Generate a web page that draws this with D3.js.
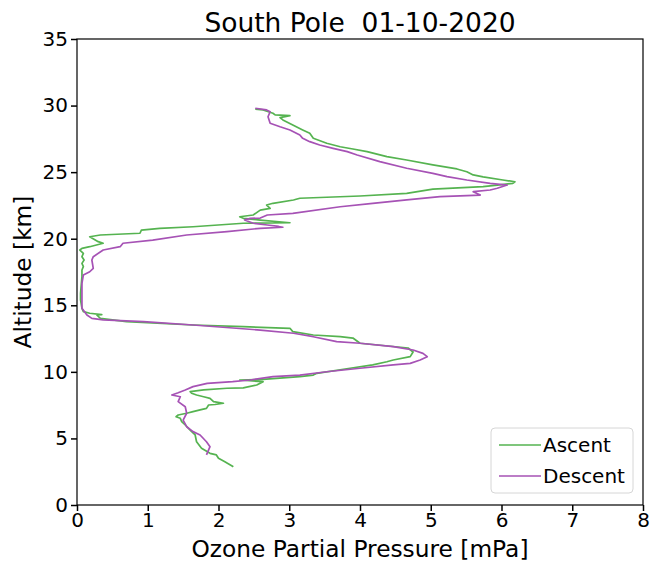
<!DOCTYPE html>
<head>
  <meta charset="utf-8">
  <title>South Pole ozone</title>
  <script src="https://d3js.org/d3.v7.min.js"></script>
  <style>
    body { margin:0; background:#fff; }
    svg { font-family: "DejaVu Sans", sans-serif; }
  </style>
</head>
<body>
  <svg width="656" height="562"></svg>
  <script>
    // [ozone partial pressure mPa, altitude km]
    var ascent = [
      [2.21,2.88],[2.09,3.25],[2.00,3.51],[1.97,3.76],[1.88,3.88],[1.76,4.26],[1.69,4.75],
      [1.67,5.26],[1.60,5.63],[1.53,6.01],[1.48,6.26],[1.46,6.51],[1.40,6.63],[1.43,6.76],
      [1.55,6.89],[1.64,7.01],[1.74,7.14],[1.83,7.26],[1.86,7.51],[1.95,7.55],[2.07,7.64],
      [1.93,7.76],[1.88,8.01],[1.79,8.13],[1.69,8.26],[1.62,8.39],[1.60,8.51],[1.79,8.64],
      [2.12,8.77],[2.35,8.80],[2.54,9.01],[2.63,9.26],[2.30,9.39],[2.63,9.44],[3.15,9.64],
      [3.34,9.76],[3.39,9.89],[3.86,10.27],[4.18,10.52],[4.38,10.76],[4.47,10.89],[4.71,11.14],
      [4.75,11.49],[4.68,11.79],[4.00,12.15],[3.90,12.54],[3.72,12.64],[3.34,12.77],[3.05,13.02],
      [3.01,13.27],[2.35,13.39],[1.64,13.52],[0.70,13.77],[0.33,14.02],[0.28,14.27],[0.35,14.30],
      [0.18,14.40],[0.09,14.52],[0.07,14.77],[0.05,15.40],[0.05,15.90],[0.07,17.15],[0.07,17.65],
      [0.09,17.90],[0.07,18.15],[0.10,18.40],[0.07,18.65],[0.09,18.90],[0.04,19.15],[0.07,19.28],
      [0.18,19.40],[0.37,19.66],[0.30,19.78],[0.18,20.15],[0.33,20.28],[0.89,20.41],[0.91,20.65],
      [1.17,20.78],[1.64,20.90],[2.35,21.16],[3.01,21.20],[2.59,21.40],[2.35,21.53],[2.30,21.65],
      [2.49,21.78],[2.59,22.15],[2.73,22.28],[2.68,22.53],[2.77,22.66],[3.06,22.91],[3.15,23.04],
      [4.00,23.21],[4.66,23.41],[5.03,23.73],[5.74,23.91],[5.94,24.03],[6.16,24.16],[6.19,24.28],
      [6.02,24.41],[5.74,24.64],[5.60,24.79],[5.51,25.03],[5.37,25.24],[5.03,25.54],[4.66,25.91],
      [4.38,26.16],[4.10,26.54],[3.90,26.74],[3.72,26.91],[3.53,27.17],[3.34,27.54],[3.29,27.92],
      [3.19,28.17],[3.05,28.54],[2.91,28.92],[2.87,29.10],[3.01,29.25],[2.80,29.30],[2.77,29.42],
      [2.63,29.67],[2.52,29.74]
    ];
    var descent = [
      [1.83,3.76],[1.88,4.38],[1.83,4.75],[1.74,5.26],[1.64,5.51],[1.55,5.88],[1.50,6.38],
      [1.55,6.89],[1.53,7.38],[1.43,7.76],[1.46,8.13],[1.34,8.26],[1.43,8.43],[1.53,8.64],
      [1.64,8.89],[1.84,9.14],[2.20,9.26],[2.45,9.39],[2.77,9.64],[3.15,9.76],[3.53,10.01],
      [4.00,10.27],[4.47,10.52],[4.71,10.64],[4.85,10.89],[4.95,11.14],[4.89,11.39],[4.75,11.64],
      [4.47,11.89],[4.00,12.15],[3.67,12.27],[3.34,12.64],[3.06,12.90],[2.59,13.14],[1.64,13.52],
      [0.94,13.77],[0.37,13.90],[0.21,14.02],[0.14,14.27],[0.07,14.77],[0.07,15.40],[0.07,16.65],
      [0.09,17.28],[0.18,17.52],[0.23,17.78],[0.21,18.40],[0.23,18.65],[0.37,19.15],[0.61,19.40],
      [0.65,19.66],[1.07,19.90],[1.55,20.28],[2.12,20.53],[2.59,20.78],[2.91,20.86],[2.85,20.92],
      [2.69,21.03],[2.49,21.16],[2.37,21.41],[2.45,21.53],[2.59,21.55],[2.69,21.78],[3.05,21.91],
      [3.72,22.40],[4.18,22.66],[4.66,22.91],[5.13,23.16],[5.70,23.28],[5.60,23.53],[5.84,23.66],
      [5.94,23.79],[6.08,24.03],[5.84,24.16],[5.51,24.41],[5.23,24.66],[5.03,24.91],[4.66,25.29],
      [4.28,25.79],[3.96,26.29],[3.82,26.54],[3.62,26.79],[3.43,27.04],[3.29,27.29],[3.19,27.54],
      [3.15,27.79],[3.01,28.17],[2.87,28.41],[2.73,28.67],[2.70,29.16],[2.73,29.54],[2.68,29.67],
      [2.52,29.80]
    ];
    var xTicks = [0,1,2,3,4,5,6,7,8];
    var yTicks = [0,5,10,15,20,25,30,35];
    var seriesNames = ['Ascent','Descent'];
    var colors = ['#55b350','#a652b5'];

    var margin = {top: 39, right: 13, bottom: 57, left: 77};
    var width = 656 - margin.left - margin.right;
    var height = 562 - margin.top - margin.bottom;

    var svg = d3.select('svg');
    var g = svg.append('g').attr('transform', 'translate(' + [margin.left, margin.top] + ')');

    var x = d3.scaleLinear().domain([0, 8]).range([0, width]);
    var y = d3.scaleLinear().domain([0, 35]).range([height, 0]);

    var line = d3.line()
      .x(d => x(d[0]))
      .y(d => y(d[1]));

    [ascent, descent].forEach((data, i) => {
      g.append('path')
        .attr('d', line(data))
        .attr('fill', 'none')
        .attr('stroke', colors[i])
        .attr('stroke-width', 1.7)
        .attr('stroke-linejoin', 'round');
    });

    // frame
    g.append('rect')
      .attr('width', width).attr('height', height)
      .attr('fill', 'none').attr('stroke', '#000').attr('stroke-width', 1.2);

    var xAxis = g.append('g')
      .attr('transform', 'translate(0,' + height + ')')
      .call(d3.axisBottom(x).tickValues(xTicks).tickSize(6).tickPadding(2));
    var yAxis = g.append('g')
      .call(d3.axisLeft(y).tickValues(yTicks).tickSize(6).tickPadding(3));
    [xAxis, yAxis].forEach(a => {
      a.select('.domain').remove();
      a.selectAll('line').attr('stroke', '#000').attr('stroke-width', 1.5);
      a.selectAll('text').attr('font-family', 'DejaVu Sans').attr('font-size', 20).attr('fill', '#000');
    });

    svg.append('text')
      .attr('x', margin.left + width / 2).attr('y', 32)
      .attr('text-anchor', 'middle').attr('font-size', 26.5)
      .style('white-space', 'pre')
      .text('South Pole  01-10-2020');

    svg.append('text')
      .attr('x', margin.left + width / 2).attr('y', 557)
      .attr('text-anchor', 'middle').attr('font-size', 23.3)
      .text('Ozone Partial Pressure [mPa]');

    svg.append('text')
      .attr('transform', 'translate(31,' + (margin.top + height / 2) + ') rotate(-90)')
      .attr('text-anchor', 'middle').attr('font-size', 23.3)
      .text('Altitude [km]');

    // legend
    var leg = svg.append('g').attr('transform', 'translate(491,428)');
    leg.append('rect')
      .attr('width', 142).attr('height', 65).attr('rx', 4)
      .attr('fill', '#fff').attr('fill-opacity', 0.8)
      .attr('stroke', '#d6d6d6');
    seriesNames.forEach((name, i) => {
      var row = leg.append('g').attr('transform', 'translate(0,' + (17 + i * 31) + ')');
      row.append('line').attr('x1', 8).attr('x2', 50)
        .attr('stroke', colors[i]).attr('stroke-width', 1.7);
      row.append('text').attr('x', 52).attr('y', 7)
        .attr('font-size', 20).text(name);
    });
  </script>
</body>
